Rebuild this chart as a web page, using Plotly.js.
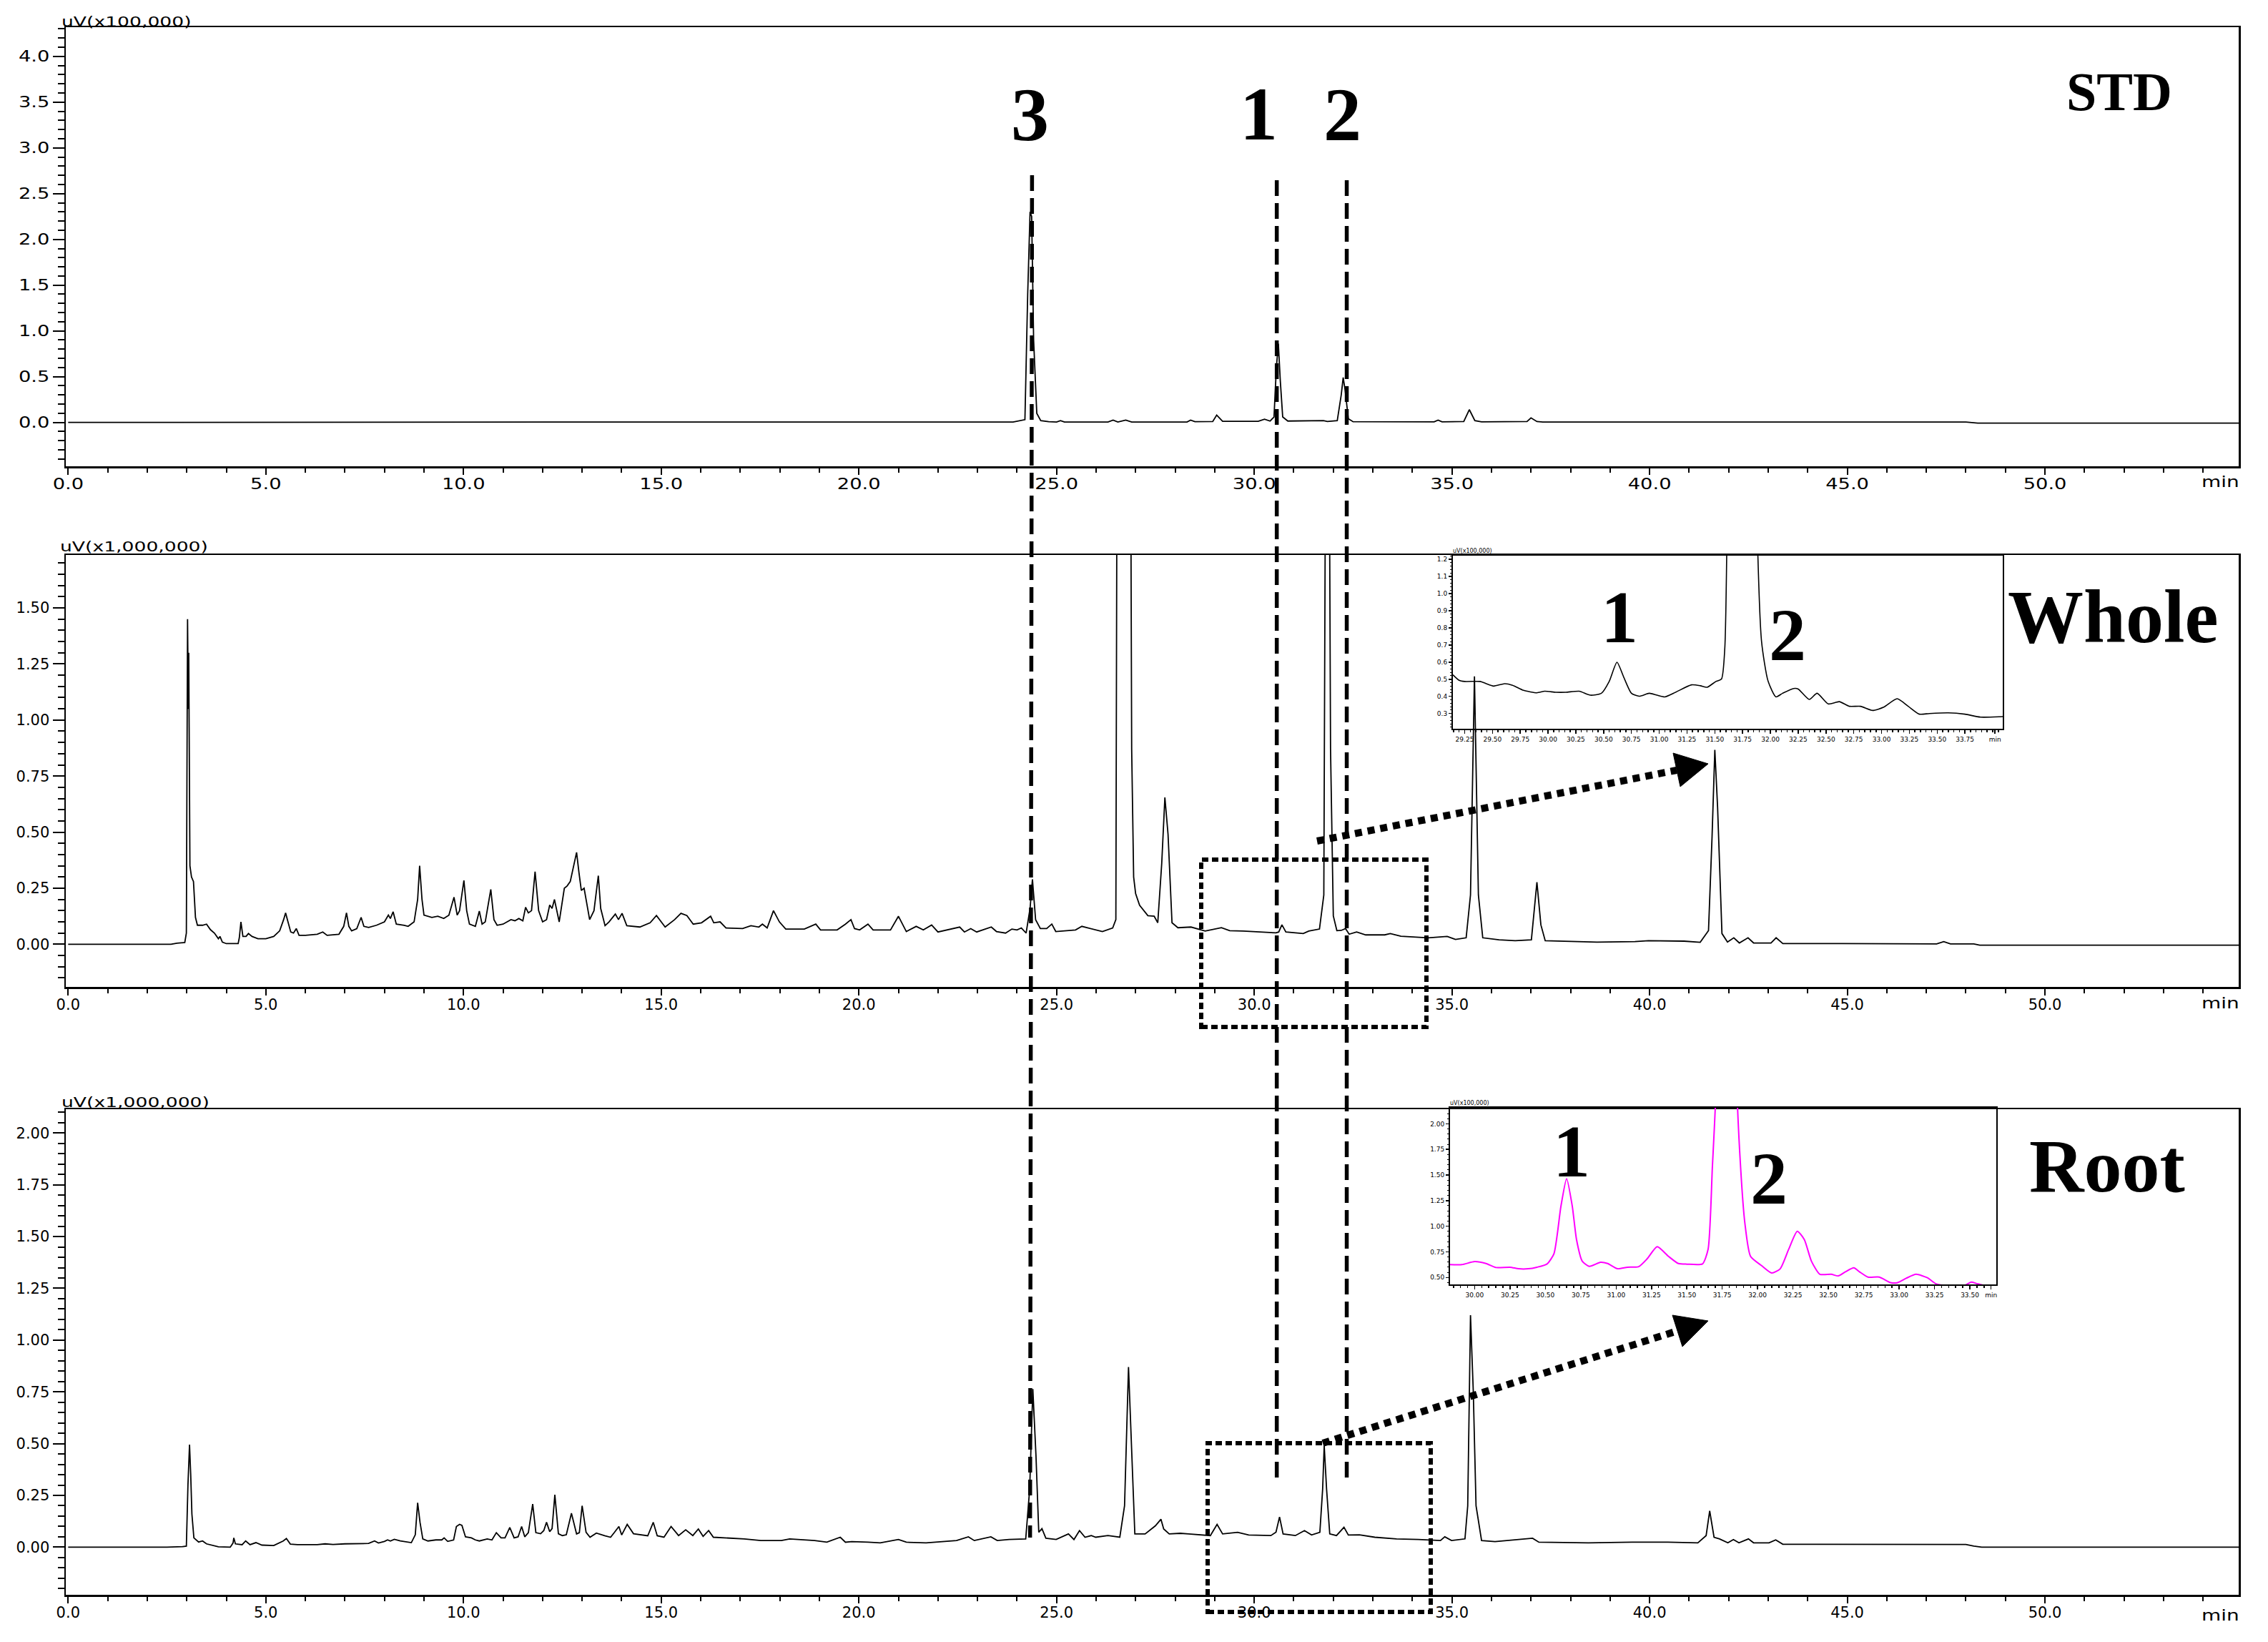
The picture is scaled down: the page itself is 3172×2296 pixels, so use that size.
<!DOCTYPE html>
<html><head><meta charset="utf-8">
<script src="https://cdn.plot.ly/plotly-3.0.1.min.js"></script>
<style>html,body{margin:0;padding:0;background:#fff;}#chart{width:3172px;height:2296px;}</style>
</head><body><div id="chart"></div>
<script>
// ---------- DATA (retention time in min, signal in panel units) ----------
const stdPoints = [[0,0],[5,0.003],[10,0.003],[15,0.005],[20,0.005],[23.9,0.005],[24.2,0.03],[24.27,1.4],[24.33,2.3],[24.37,2.25],[24.42,0.9],[24.5,0.1],[24.6,0.02],[24.8,0.008],[25.0,0.004],[25.1,0.02],[25.2,0.004],[26.3,0.004],[26.43,0.025],[26.55,0.004],[26.75,0.025],[26.9,0.004],[28.3,0.005],[28.39,0.025],[28.5,0.008],[28.95,0.01],[29.05,0.08],[29.2,0.012],[30.1,0.012],[30.26,0.035],[30.4,0.015],[30.5,0.06],[30.56,0.6],[30.61,0.86],[30.66,0.45],[30.72,0.06],[30.85,0.015],[31.7,0.015],[31.75,0.02],[31.85,0.01],[32.1,0.02],[32.2,0.3],[32.25,0.49],[32.3,0.35],[32.38,0.04],[32.5,0.008],[34.55,0.006],[34.65,0.025],[34.75,0.006],[35.3,0.01],[35.44,0.14],[35.58,0.02],[35.75,0.006],[36.9,0.01],[37.0,0.05],[37.15,0.01],[37.3,0.005],[48.0,0.005],[48.3,-0.008],[55,-0.008]];

const wholePoints = [[0,0],[2.6,0],[2.75,0.005],[2.95,0.008],[2.99,0.05],[3.02,1.45],[3.04,1.05],[3.05,1.3],[3.08,0.35],[3.12,0.30],[3.17,0.28],[3.22,0.12],[3.27,0.085],[3.4,0.085],[3.5,0.09],[3.6,0.065],[3.7,0.05],[3.8,0.025],[3.84,0.035],[3.9,0.01],[4.0,0.003],[4.3,0.003],[4.33,0.03],[4.37,0.10],[4.42,0.035],[4.5,0.035],[4.56,0.048],[4.65,0.035],[4.8,0.025],[5.0,0.025],[5.2,0.035],[5.35,0.06],[5.45,0.11],[5.5,0.14],[5.56,0.10],[5.63,0.055],[5.7,0.05],[5.77,0.07],[5.84,0.04],[6.0,0.04],[6.3,0.045],[6.44,0.055],[6.55,0.04],[6.85,0.045],[6.97,0.08],[7.04,0.14],[7.1,0.08],[7.17,0.06],[7.3,0.07],[7.41,0.12],[7.48,0.08],[7.6,0.075],[7.8,0.085],[8.0,0.1],[8.1,0.13],[8.15,0.115],[8.22,0.145],[8.3,0.09],[8.5,0.085],[8.6,0.08],[8.75,0.1],[8.84,0.2],[8.89,0.35],[8.95,0.2],[9.0,0.13],[9.2,0.12],[9.35,0.125],[9.5,0.115],[9.63,0.13],[9.76,0.21],[9.84,0.13],[9.9,0.15],[10.01,0.285],[10.08,0.15],[10.15,0.09],[10.3,0.08],[10.4,0.148],[10.47,0.09],[10.55,0.1],[10.69,0.245],[10.77,0.11],[10.85,0.085],[11.0,0.09],[11.2,0.11],[11.3,0.105],[11.4,0.115],[11.5,0.105],[11.57,0.165],[11.64,0.14],[11.72,0.15],[11.81,0.324],[11.9,0.15],[12.0,0.1],[12.1,0.11],[12.18,0.175],[12.24,0.16],[12.3,0.2],[12.42,0.1],[12.55,0.25],[12.62,0.26],[12.7,0.28],[12.8,0.36],[12.86,0.41],[12.92,0.32],[12.98,0.24],[13.05,0.25],[13.1,0.2],[13.19,0.11],[13.3,0.15],[13.41,0.306],[13.47,0.16],[13.58,0.083],[13.68,0.10],[13.84,0.135],[13.92,0.11],[14.01,0.138],[14.13,0.083],[14.46,0.077],[14.72,0.096],[14.88,0.128],[15.1,0.077],[15.34,0.11],[15.5,0.138],[15.65,0.128],[15.81,0.09],[16.02,0.096],[16.25,0.125],[16.33,0.096],[16.49,0.1],[16.64,0.073],[17.06,0.07],[17.27,0.083],[17.47,0.077],[17.56,0.09],[17.68,0.073],[17.84,0.15],[17.99,0.1],[18.15,0.068],[18.62,0.068],[18.91,0.09],[19.03,0.064],[19.45,0.064],[19.66,0.09],[19.8,0.11],[19.89,0.07],[20.02,0.064],[20.23,0.09],[20.36,0.064],[20.8,0.064],[21.0,0.125],[21.2,0.057],[21.45,0.08],[21.63,0.064],[21.84,0.086],[22.0,0.055],[22.3,0.068],[22.55,0.077],[22.67,0.055],[22.83,0.07],[22.98,0.055],[23.35,0.077],[23.48,0.057],[23.71,0.05],[23.87,0.068],[24.0,0.064],[24.11,0.073],[24.23,0.05],[24.33,0.16],[24.39,0.29],[24.47,0.11],[24.59,0.07],[24.75,0.07],[24.88,0.09],[24.98,0.057],[25.48,0.064],[25.64,0.08],[25.85,0.07],[26.16,0.057],[26.42,0.073],[26.5,0.11],[26.54,3.0],[26.86,3.0],[26.9,0.87],[26.95,0.3],[27.0,0.226],[27.1,0.174],[27.31,0.128],[27.47,0.125],[27.56,0.096],[27.66,0.36],[27.74,0.655],[27.82,0.49],[27.92,0.096],[28.07,0.074],[28.4,0.077],[28.76,0.059],[29.17,0.074],[29.38,0.061],[29.72,0.059],[30.55,0.051],[30.62,0.055],[30.7,0.087],[30.8,0.055],[31.24,0.048],[31.38,0.059],[31.65,0.068],[31.76,0.22],[31.82,3.0],[31.88,3.0],[31.93,0.87],[32.0,0.127],[32.09,0.061],[32.2,0.062],[32.31,0.07],[32.4,0.045],[32.59,0.055],[32.82,0.042],[33.3,0.042],[33.44,0.048],[33.71,0.036],[34.4,0.029],[34.88,0.035],[35.09,0.022],[35.36,0.029],[35.47,0.22],[35.57,1.195],[35.67,0.22],[35.78,0.029],[36.19,0.02],[36.6,0.016],[37.01,0.02],[37.08,0.153],[37.15,0.277],[37.25,0.087],[37.36,0.016],[38.67,0.01],[39.63,0.012],[39.97,0.016],[40.87,0.014],[41.28,0.009],[41.49,0.061],[41.58,0.48],[41.65,0.867],[41.72,0.61],[41.83,0.048],[41.97,0.01],[42.13,0.029],[42.27,0.006],[42.49,0.029],[42.63,0.006],[43.07,0.006],[43.2,0.029],[43.37,0.003],[44.86,0.003],[47.26,0.002],[47.44,0.012],[47.61,0.002],[48.2,0.002],[48.35,-0.004],[55,-0.004]];

const rootPoints = [[0,0],[2.5,0],[2.9,0.003],[2.99,0.005],[3.03,0.3],[3.07,0.495],[3.1,0.35],[3.13,0.16],[3.18,0.045],[3.3,0.025],[3.4,0.03],[3.5,0.016],[3.8,0.002],[4.1,0.0],[4.17,0.02],[4.19,0.045],[4.23,0.016],[4.4,0.012],[4.49,0.03],[4.6,0.012],[4.75,0.022],[4.9,0.01],[5.2,0.008],[5.44,0.03],[5.52,0.042],[5.62,0.015],[5.8,0.012],[6.3,0.012],[6.5,0.016],[6.7,0.013],[7.0,0.016],[7.4,0.016],[7.6,0.018],[7.75,0.03],[7.85,0.02],[8.0,0.028],[8.08,0.035],[8.15,0.03],[8.25,0.038],[8.4,0.03],[8.68,0.022],[8.78,0.06],[8.84,0.214],[8.9,0.12],[8.97,0.04],[9.1,0.03],[9.3,0.035],[9.45,0.035],[9.51,0.045],[9.6,0.028],[9.75,0.035],[9.82,0.1],[9.9,0.11],[9.96,0.105],[10.05,0.05],[10.2,0.045],[10.3,0.035],[10.4,0.03],[10.6,0.04],[10.72,0.035],[10.83,0.07],[10.95,0.045],[11.05,0.045],[11.17,0.095],[11.28,0.045],[11.38,0.05],[11.47,0.1],[11.55,0.05],[11.64,0.07],[11.75,0.208],[11.83,0.07],[11.95,0.065],[12.03,0.08],[12.1,0.12],[12.18,0.075],[12.24,0.09],[12.31,0.253],[12.4,0.065],[12.5,0.056],[12.6,0.06],[12.73,0.164],[12.86,0.064],[12.93,0.07],[13.0,0.2],[13.1,0.072],[13.2,0.048],[13.36,0.068],[13.57,0.055],[13.72,0.048],[13.82,0.072],[13.93,0.1],[14.0,0.059],[14.14,0.11],[14.3,0.065],[14.45,0.06],[14.66,0.055],[14.8,0.12],[14.9,0.055],[15.07,0.048],[15.25,0.1],[15.44,0.056],[15.62,0.084],[15.8,0.056],[15.94,0.088],[16.06,0.052],[16.2,0.08],[16.32,0.048],[16.79,0.043],[17.1,0.04],[17.52,0.032],[18.04,0.032],[18.25,0.04],[18.88,0.032],[19.19,0.024],[19.53,0.048],[19.66,0.024],[19.82,0.027],[20.23,0.024],[20.54,0.021],[21.0,0.037],[21.2,0.024],[21.7,0.021],[22.1,0.027],[22.47,0.032],[22.77,0.05],[22.92,0.032],[23.34,0.05],[23.5,0.032],[23.8,0.037],[24.22,0.04],[24.32,0.28],[24.4,0.764],[24.48,0.44],[24.55,0.072],[24.63,0.09],[24.73,0.043],[24.99,0.037],[25.3,0.064],[25.44,0.037],[25.58,0.08],[25.72,0.048],[25.88,0.056],[25.99,0.048],[26.3,0.056],[26.6,0.048],[26.72,0.2],[26.82,0.87],[26.9,0.44],[26.98,0.064],[27.24,0.064],[27.5,0.103],[27.64,0.135],[27.71,0.088],[27.85,0.064],[28.13,0.067],[28.34,0.064],[28.61,0.059],[28.89,0.056],[29.06,0.11],[29.2,0.064],[29.58,0.072],[29.86,0.059],[30.42,0.056],[30.55,0.072],[30.64,0.146],[30.73,0.064],[31.04,0.056],[31.27,0.08],[31.45,0.059],[31.66,0.072],[31.73,0.28],[31.77,0.49],[31.83,0.28],[31.91,0.064],[32.08,0.056],[32.27,0.096],[32.38,0.059],[32.66,0.06],[33.05,0.048],[33.6,0.04],[34.15,0.037],[34.71,0.032],[34.82,0.05],[34.99,0.032],[35.33,0.04],[35.4,0.2],[35.47,1.12],[35.54,0.756],[35.61,0.2],[35.75,0.032],[36.09,0.027],[37.04,0.043],[37.2,0.024],[38.45,0.021],[39.56,0.024],[40.46,0.024],[41.22,0.021],[41.43,0.056],[41.52,0.175],[41.63,0.048],[41.77,0.04],[41.98,0.021],[42.12,0.037],[42.26,0.021],[42.5,0.04],[42.63,0.021],[43.02,0.021],[43.19,0.035],[43.37,0.014],[45.51,0.014],[48.0,0.013],[48.2,0.005],[48.4,0.0],[55,0.0]];

// zoomed insets (signal in x100,000 uV)
const wholeInsetPoints = [[29.144,0.526],[29.2,0.494],[29.25,0.487],[29.39,0.487],[29.44,0.475],[29.51,0.46],[29.61,0.474],[29.68,0.465],[29.78,0.435],[29.9,0.421],[29.97,0.43],[30.07,0.424],[30.16,0.424],[30.28,0.43],[30.38,0.407],[30.48,0.418],[30.55,0.487],[30.62,0.599],[30.68,0.513],[30.75,0.418],[30.82,0.401],[30.91,0.418],[30.98,0.407],[31.05,0.397],[31.15,0.425],[31.29,0.467],[31.37,0.462],[31.43,0.453],[31.51,0.487],[31.56,0.501],[31.59,0.682],[31.62,2.0],[31.75,20],[31.86,2.0],[31.92,0.724],[31.98,0.487],[32.05,0.397],[32.11,0.418],[32.21,0.446],[32.25,0.443],[32.35,0.382],[32.42,0.418],[32.52,0.356],[32.62,0.369],[32.71,0.342],[32.81,0.342],[32.92,0.318],[33.02,0.337],[33.14,0.386],[33.24,0.342],[33.34,0.296],[33.43,0.3],[33.6,0.304],[33.75,0.296],[33.89,0.279],[34.09,0.282]];

const rootInsetPoints = [[29.826,0.625],[29.91,0.625],[30.0,0.655],[30.08,0.636],[30.15,0.597],[30.25,0.6],[30.31,0.585],[30.38,0.585],[30.44,0.6],[30.51,0.63],[30.56,0.73],[30.61,1.196],[30.65,1.464],[30.69,1.196],[30.72,0.87],[30.76,0.66],[30.81,0.608],[30.89,0.648],[30.94,0.636],[31.01,0.585],[31.08,0.6],[31.16,0.606],[31.22,0.683],[31.29,0.8],[31.37,0.706],[31.44,0.636],[31.5,0.63],[31.61,0.632],[31.65,0.776],[31.68,1.57],[31.71,2.5],[31.78,20],[31.85,2.5],[31.88,1.57],[31.91,1.03],[31.95,0.706],[32.03,0.613],[32.1,0.543],[32.16,0.585],[32.22,0.776],[32.28,0.951],[32.33,0.87],[32.38,0.66],[32.44,0.531],[32.52,0.531],[32.57,0.515],[32.62,0.555],[32.68,0.594],[32.72,0.555],[32.78,0.504],[32.86,0.504],[32.94,0.45],[32.99,0.45],[33.05,0.492],[33.12,0.531],[33.2,0.497],[33.26,0.438],[33.35,0.42],[33.46,0.42],[33.51,0.455],[33.55,0.44],[33.61,0.42],[33.687,0.42]];

// tick labels
const mainTickVals = [0,5,10,15,20,25,30,35,40,45,50];
const mainTickText = ['0.0','5.0','10.0','15.0','20.0','25.0','30.0','35.0','40.0','45.0','50.0'];
const wholeInsetTickVals = [29.25,29.5,29.75,30,30.25,30.5,30.75,31,31.25,31.5,31.75,32,32.25,32.5,32.75,33,33.25,33.5,33.75,34.02];
const wholeInsetTickText = ['29.25','29.50','29.75','30.00','30.25','30.50','30.75','31.00','31.25','31.50','31.75','32.00','32.25','32.50','32.75','33.00','33.25','33.50','33.75','min'];
const rootInsetTickVals = [30,30.25,30.5,30.75,31,31.25,31.5,31.75,32,32.25,32.5,32.75,33,33.25,33.5,33.65];
const rootInsetTickText = ['30.00','30.25','30.50','30.75','31.00','31.25','31.50','31.75','32.00','32.25','32.50','32.75','33.00','33.25','33.50','min'];

// standard retention times marked by dashed guide lines
const guideTimes = {c3:[24.38,24.33], c1:[30.57,30.57], c2:[32.34,32.34]};

// ---------- LAYOUT ----------
const W = 3172, H = 2296;
const px = v => v / W;
const py = v => 1 - v / H;
const xs = p => p.map(d => d[0]);
const ys = p => p.map(d => d[1]);

const tickFont = {family:'DejaVu Sans', size:21, color:'#000'};
function mainX(anchor){
  return {domain:[px(92), px(3131)], range:[-0.06,54.9], anchor:anchor, showline:true, mirror:true,
    linecolor:'#000', linewidth:2.5, ticks:'outside', ticklen:9, tickwidth:2, tickcolor:'#000',
    tickmode:'array', tickvals:mainTickVals, ticktext:mainTickText, tickfont:tickFont, ticklabelstandoff:-5,
    minor:{tickmode:'linear', tick0:0, dtick:1, ticks:'outside', ticklen:6, tickwidth:2, tickcolor:'#000'},
    showgrid:false, zeroline:false, fixedrange:true};
}
function mainY(anchor, dom, rng, dt, mdt, fmt){
  return {domain:dom, range:rng, anchor:anchor, showline:true, mirror:true, linecolor:'#000', linewidth:2.5,
    ticks:'outside', ticklen:16, tickwidth:2, tickcolor:'#000', tickmode:'linear', tick0:0, dtick:dt,
    tickformat:fmt, tickfont:tickFont,
    minor:{tickmode:'linear', tick0:0, dtick:mdt, ticks:'outside', ticklen:9, tickwidth:2, tickcolor:'#000'},
    showgrid:false, zeroline:false, fixedrange:true};
}
const insetFont = {family:'DejaVu Sans', size:9, color:'#000'};
function insetX(anchor, dom, rng, tv, tt){
  return {domain:dom, range:rng, anchor:anchor, showline:true, mirror:true, linecolor:'#000', linewidth:2,
    ticks:'outside', ticklen:5, tickwidth:1.5, tickcolor:'#000', tickmode:'array', tickvals:tv, ticktext:tt,
    tickfont:insetFont,
    minor:{tickmode:'linear', tick0:0, dtick:0.05, ticks:'outside', ticklen:3, tickwidth:1.5, tickcolor:'#000'},
    showgrid:false, zeroline:false, fixedrange:true};
}
function insetY(anchor, dom, rng, dt, mdt, fmt){
  return {domain:dom, range:rng, anchor:anchor, showline:true, mirror:true, linecolor:'#000', linewidth:2,
    ticks:'outside', ticklen:4, tickwidth:1.5, tickcolor:'#000', tickmode:'linear', tick0:0, dtick:dt,
    tickformat:fmt, tickfont:insetFont,
    minor:{tickmode:'linear', tick0:0, dtick:mdt, ticks:'outside', ticklen:2, tickwidth:1, tickcolor:'#000'},
    showgrid:false, zeroline:false, fixedrange:true};
}

const lineBlack = {color:'#000', width:1.8};
const traces = [
  {x:xs(stdPoints), y:ys(stdPoints), xaxis:'x', yaxis:'y', type:'scatter', mode:'lines', line:lineBlack, hoverinfo:'skip'},
  {x:xs(wholePoints), y:ys(wholePoints), xaxis:'x2', yaxis:'y2', type:'scatter', mode:'lines', line:lineBlack, hoverinfo:'skip'},
  {x:xs(rootPoints), y:ys(rootPoints), xaxis:'x3', yaxis:'y3', type:'scatter', mode:'lines', line:lineBlack, hoverinfo:'skip'},
  {x:xs(wholeInsetPoints), y:ys(wholeInsetPoints), xaxis:'x4', yaxis:'y4', type:'scatter', mode:'lines', line:{color:'#000', width:1.6, shape:'spline', smoothing:0.6}, hoverinfo:'skip'},
  {x:xs(rootInsetPoints), y:ys(rootInsetPoints), xaxis:'x5', yaxis:'y5', type:'scatter', mode:'lines', line:{color:'#ff00ff', width:2, shape:'spline', smoothing:0.6}, hoverinfo:'skip'}
];

const serif = (size) => ({family:'Liberation Serif', size:size, color:'#000', weight:'bold'});
const ann = (text, x, y, font, xanchor) => ({text:text, x:x, y:y, xref:'paper', yref:'paper', showarrow:false,
  xanchor:xanchor||'center', yanchor:'middle', align:xanchor||'center', font:font});
const uvFont = {family:'DejaVu Sans', size:20, color:'#000'};
const annotations = [
  ann('uV(x100,000)', px(84), py(30), uvFont, 'left'),
  ann('uV(x1,000,000)', px(82), py(764), uvFont, 'left'),
  ann('uV(x1,000,000)', px(84), py(1541), uvFont, 'left'),
  ann('min', px(3134), py(674), tickFont, 'right'),
  ann('min', px(3134), py(1403), tickFont, 'right'),
  ann('min', px(3134), py(2259), tickFont, 'right'),
  ann('3', px(1440), py(161), serif(106)),
  ann('1', px(1761), py(160), serif(106)),
  ann('2', px(1877), py(161), serif(106)),
  ann('STD', px(2964), py(128), serif(76)),
  ann('Whole', px(2955), py(862), serif(106)),
  ann('Root', px(2947), py(1630), serif(106)),
  ann('1', px(2265), py(863), serif(104)),
  ann('2', px(2500), py(888), serif(104)),
  ann('1', px(2198), py(1609), serif(104)),
  ann('2', px(2474), py(1647), serif(104)),
  ann('uV(x100,000)', px(2030), py(771), {family:'DejaVu Sans', size:8, color:'#000'}, 'left'),
  ann('uV(x100,000)', px(2026), py(1543), {family:'DejaVu Sans', size:8, color:'#000'}, 'left')
];

const dashLine = {color:'#000', width:5.5, dash:'22px,10px'};
const dotRect = {color:'#000', width:6, dash:'9px,5px'};
const dotArrow = {color:'#000', width:10, dash:'10px,8px'};
const shapes = [
  {type:'line', xref:'x', yref:'paper', x0:guideTimes.c3[0], x1:guideTimes.c3[1], y0:py(245), y1:py(2150), line:dashLine},
  {type:'line', xref:'x', yref:'paper', x0:guideTimes.c1[0], x1:guideTimes.c1[1], y0:py(252), y1:py(2067), line:dashLine},
  {type:'line', xref:'x', yref:'paper', x0:guideTimes.c2[0], x1:guideTimes.c2[1], y0:py(252), y1:py(2067), line:dashLine},
  {type:'rect', xref:'paper', yref:'paper', x0:px(1680), x1:px(1995), y0:py(1436), y1:py(1202), line:dotRect},
  {type:'rect', xref:'paper', yref:'paper', x0:px(1689), x1:px(2001), y0:py(2254), y1:py(2018), line:dotRect},
  {type:'line', xref:'paper', yref:'paper', x0:px(1842), y0:py(1176), x1:px(2345), y1:py(1077), line:dotArrow},
  {type:'line', xref:'paper', yref:'paper', x0:px(1850), y0:py(2018), x1:px(2346), y1:py(1861), line:dotArrow},
  {type:'path', xref:'paper', yref:'paper', path:`M ${px(2389)},${py(1068)} L ${px(2340)},${py(1053)} L ${px(2350)},${py(1100)} Z`, fillcolor:'#000', line:{color:'#000', width:1}},
  {type:'path', xref:'paper', yref:'paper', path:`M ${px(2389)},${py(1847)} L ${px(2339)},${py(1839)} L ${px(2353)},${py(1883)} Z`, fillcolor:'#000', line:{color:'#000', width:1}}
];

const layout = {
  width:W, height:H, margin:{l:0, r:0, t:0, b:0}, paper_bgcolor:'#fff', plot_bgcolor:'rgba(0,0,0,0)',
  showlegend:false, font:{family:'DejaVu Sans', color:'#000'},
  xaxis: mainX('y'),
  yaxis: mainY('x', [py(652), py(38)], [-0.479, 4.318], 0.5, 0.1, '.1f'),
  xaxis2: mainX('y2'),
  yaxis2: mainY('x2', [py(1380), py(776)], [-0.19, 1.736], 0.25, 0.05, '.2f'),
  xaxis3: mainX('y3'),
  yaxis3: mainY('x3', [py(2230), py(1551)], [-0.23, 2.115], 0.25, 0.05, '.2f'),
  xaxis4: insetX('y4', [px(2032), px(2801)], [29.144, 34.09], wholeInsetTickVals, wholeInsetTickText),
  yaxis4: insetY('x4', [py(1019), py(777)], [0.211, 1.221], 0.1, 0.02, '.1f'),
  xaxis5: insetX('y5', [px(2028), px(2792)], [29.826, 33.687], rootInsetTickVals, rootInsetTickText),
  yaxis5: insetY('x5', [py(1796), py(1549)], [0.432, 2.156], 0.25, 0.05, '.2f'),
  annotations: annotations,
  shapes: shapes
};

// the instrument software uses a wide (extended) sans face; widen the real text glyphs to match
function widen(nodes, f){
  nodes.forEach(t => {
    const w = t.getComputedTextLength();
    if (w > 0) { t.setAttribute('textLength', (w * f).toFixed(1)); t.setAttribute('lengthAdjust', 'spacingAndGlyphs'); }
  });
}
Plotly.newPlot('chart', traces, layout, {staticPlot:true, displayModeBar:false}).then(gd => {
  const sel = ['xy','x2y2','x3y3'].map(s => `.subplot.${s} .xtick text, .subplot.${s} .ytick text`).join(', ');
  widen(Array.from(gd.querySelectorAll(sel)), 1.3);
  const annTexts = Array.from(gd.querySelectorAll('.annotation-text')).filter(t => {
    const fs = parseFloat(t.style.fontSize || '0');
    return fs === 20 || fs === 21;
  });
  widen(annTexts, 1.33);
});
</script>
</body></html>
